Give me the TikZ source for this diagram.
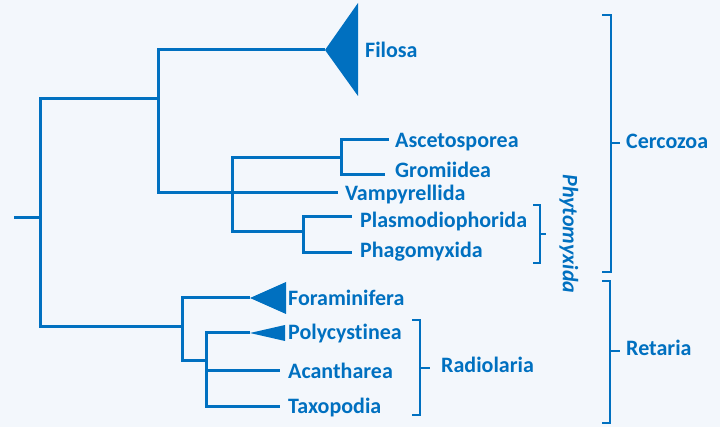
\documentclass[tikz,border=0pt]{standalone}
\usepackage{fontspec}
\setmainfont{Carlito}[Ligatures=NoCommon]
\definecolor{treeblue}{HTML}{0070C0}
\definecolor{paper}{HTML}{F3F7FC}

\begin{document}
\begin{tikzpicture}[x=1pt,y=-1pt,
  branch/.style={draw=treeblue, line width=3pt},
  clade/.style={fill=treeblue},
  brack/.style={draw=treeblue, line width=2pt},
  taxon/.style={anchor=west, inner sep=0pt, text height=14.2pt, text depth=0pt,
    text=treeblue, font=\fontsize{22}{26}\selectfont\bfseries},
]
\fill[paper] (0,0) rectangle (720,427);
\useasboundingbox (0,0) rectangle (720,427);

% internal nodes of the tree
\coordinate (stub) at (14,218);
\coordinate (root) at (40,218);
\coordinate (cerc) at (158,99);
\coordinate (filosaTip) at (325,50);
\coordinate (core) at (232,193);
\coordinate (ascgro) at (341,158);
\coordinate (phyto) at (303,232);
\coordinate (reta) at (182,327);
\coordinate (foramTip) at (250,298);
\coordinate (radio) at (206,361);
\coordinate (polyTip) at (250,333);

% Text Node (taxa)
\node[taxon] (filosa) at (365,50) {Filosa};
\node[taxon] (asc) at (395,140) {Ascetosporea};
\node[taxon] (gro) at (395,170) {Gromiidea};
\node[taxon] (vamp) at (345,193) {Vampyrellida};
\node[taxon] (plas) at (360,220) {Plasmodiophorida};
\node[taxon] (phag) at (360,250) {Phagomyxida};
\node[taxon] (foram) at (288,298) {Foraminifera};
\node[taxon] (poly) at (288,332) {Polycystinea};
\node[taxon] (acan) at (288,371) {Acantharea};
\node[taxon] (taxo) at (288,406) {Taxopodia};

% branches
\draw[branch] (stub) -- (root);
\draw[branch] (root) |- (cerc);
\draw[branch] (root) |- (reta);
\draw[branch] (cerc) |- (filosaTip);
\draw[branch] (cerc) |- (core);
\draw[branch, shorten >=7pt] (core) -- (vamp.west);
\draw[branch] (core) |- (ascgro);
\draw[branch] (core) |- (phyto);
\draw[branch, shorten >=6pt] (ascgro) |- (asc.west);
\draw[branch, shorten >=10pt] (ascgro) |- ([yshift=-5pt]gro.west);
\draw[branch, shorten >=8pt] (phyto) |- ([yshift=3pt]plas.west);
\draw[branch, shorten >=8pt] (phyto) |- ([yshift=-3pt]phag.west);
\draw[branch] (reta) |- (foramTip);
\draw[branch] (reta) |- (radio);
\draw[branch] (radio) |- (polyTip);
\draw[branch, shorten >=8pt] (radio) |- (acan.west);
\draw[branch, shorten >=8pt] (radio) |- (taxo.west);

% collapsed clades
\fill[clade] (filosaTip) -- ++(33,-47) -- ++(0,93) -- cycle;
\fill[clade] (foramTip) -- ++(36,-16) -- ++(0,32) -- cycle;
\fill[clade] (polyTip) -- ++(35,-8) -- ++(0,16) -- cycle;

% Text Node (groups)
\node[taxon] (cercozoa) at (626,141) {Cercozoa};
\node[taxon] (retaria) at (626,348) {Retaria};
\node[taxon] (radiolaria) at (441,365) {Radiolaria};
\node[taxon, anchor=center, rotate=-90] (phytomyxida) at (570,234) {\itshape Phytomyxida};

% brackets
\draw[brack] (602,15) -- (611,15) -- (611,272) -- (602,272);
\draw[brack, shorten >=6pt] (611,143) -- (cercozoa.west |- 0,143);
\draw[brack] (602,281) -- (610,281) -- (610,423) -- (602,423);
\draw[brack, shorten >=6pt] (610,351) -- (retaria.west |- 0,351);
\draw[brack] (412,320) -- (420,320) -- (420,415) -- (412,415);
\draw[brack, shorten >=11pt] (420,368) -- (radiolaria.west |- 0,368);
\draw[brack] (533,205) -- (540,205) -- (540,263) -- (533,263);
\draw[brack, shorten >=17pt] (540,234) -- (phytomyxida.south);
\end{tikzpicture}
\end{document}
